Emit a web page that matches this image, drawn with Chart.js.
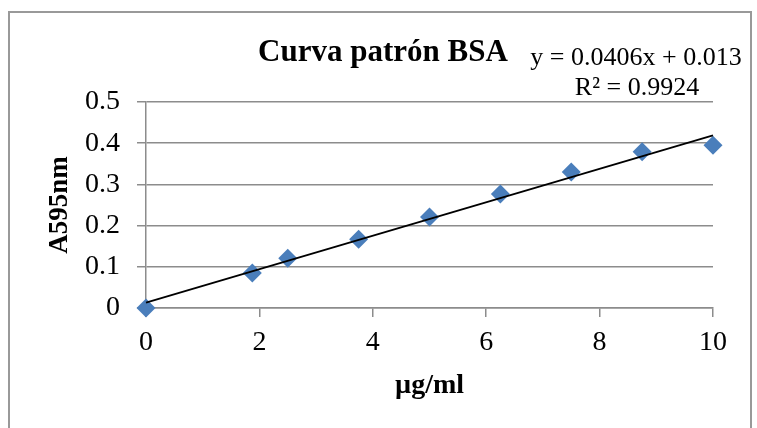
<!DOCTYPE html>
<html>
<head>
<meta charset="utf-8">
<script src="https://cdn.jsdelivr.net/npm/chart.js@4"></script>
<style>
  html, body { margin: 0; padding: 0; background: #fff; }
  canvas { display: block; }
</style>
</head>
<body>
<canvas id="bsa-chart" width="757" height="428"></canvas>
<script>
// Curva patrón BSA
const conc = [0, 1.875, 2.5, 3.75, 5, 6.25, 7.5, 8.75, 10];
const abs595 = [0, 0.085, 0.121, 0.167, 0.221, 0.277, 0.330, 0.379, 0.395];

// Línea de tendencia: y = 0.0406x + 0.013
const trendX = [0, 10];
const trendY = [0.013, 0.419];

const chartTitle = 'Curva patrón BSA';
const eqLines = ['y = 0.0406x + 0.013', 'R² = 0.9924'];

const serif = '"Liberation Serif", "Times New Roman", serif';

// Marco exterior, título y ecuación
const decor = {
    id: 'decor',
    beforeDraw(chart) {
        const ctx = chart.ctx;
        ctx.save();
        ctx.fillStyle = '#fff';
        ctx.fillRect(0, 0, chart.width, chart.height);
        ctx.strokeStyle = '#999';
        ctx.lineWidth = 2;
        ctx.strokeRect(9, 12, 742, 430);
        ctx.restore();
    },
    afterDraw(chart) {
        const ctx = chart.ctx;
        ctx.save();
        ctx.fillStyle = '#000';
        ctx.textAlign = 'center';
        ctx.textBaseline = 'alphabetic';
        ctx.font = 'bold 31px ' + serif;
        ctx.fillText(chartTitle, 383, 61);
        ctx.font = '26px ' + serif;
        ctx.fillText(eqLines[0], 636, 65);
        ctx.fillText(eqLines[1], 637, 95);
        ctx.restore();
    }
};

new Chart(document.getElementById('bsa-chart'), {
    type: 'scatter',
    data: {
        datasets: [
            {
                label: 'BSA',
                data: conc.map((x, i) => ({ x: x, y: abs595[i] })),
                pointStyle: 'rectRot',
                pointRadius: 9.5,
                pointHoverRadius: 9.5,
                backgroundColor: '#4a7ebb',
                borderColor: '#4a7ebb',
                borderWidth: 0,
                showLine: false,
                clip: false,
                order: 1
            },
            {
                label: 'Lineal',
                type: 'line',
                data: trendX.map((x, i) => ({ x: x, y: trendY[i] })),
                borderColor: '#000',
                borderWidth: 1.8,
                pointRadius: 0,
                fill: false,
                clip: false,
                order: 0
            }
        ]
    },
    options: {
        responsive: false,
        animation: false,
        layout: { padding: { top: 102, right: 44, left: 0, bottom: 0 } },
        plugins: {
            legend: { display: false },
            tooltip: { enabled: false }
        },
        scales: {
            x: {
                type: 'linear',
                min: 0,
                max: 10,
                afterFit(scale) { scale.height = 120; },
                ticks: {
                    stepSize: 2,
                    color: '#000',
                    padding: 9,
                    font: { family: serif, size: 28 }
                },
                grid: {
                    drawOnChartArea: false,
                    drawTicks: true,
                    tickLength: 9,
                    color: '#8c8c8c',
                    lineWidth: 1.5
                },
                border: { display: true, color: '#8c8c8c', width: 1.5 },
                title: {
                    display: true,
                    text: 'µg/ml',
                    color: '#000',
                    font: { family: serif, size: 28, weight: 'bold' },
                    padding: { top: 0, bottom: 25 }
                }
            },
            y: {
                type: 'linear',
                min: 0,
                max: 0.5,
                afterFit(scale) { scale.width = 146; },
                ticks: {
                    stepSize: 0.1,
                    color: '#000',
                    padding: 17,
                    font: { family: serif, size: 28 }
                },
                grid: {
                    drawTicks: true,
                    tickLength: 9,
                    color: '#8c8c8c',
                    lineWidth: 1.5
                },
                border: { display: true, color: '#8c8c8c', width: 1.5 },
                title: {
                    display: true,
                    text: 'A595nm',
                    color: '#000',
                    font: { family: serif, size: 27, weight: 'bold' },
                    padding: { top: 44, bottom: 0 }
                }
            }
        }
    },
    plugins: [decor]
});
</script>
</body>
</html>
